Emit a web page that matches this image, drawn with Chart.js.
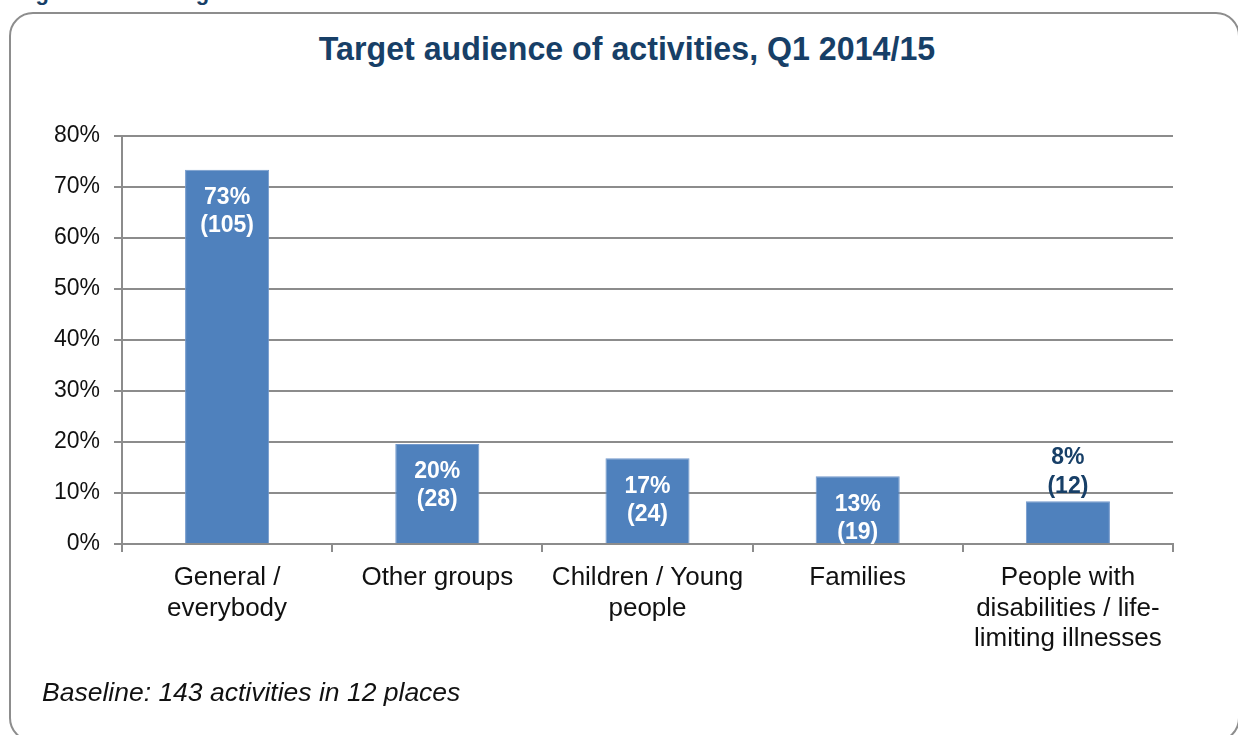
<!DOCTYPE html>
<html>
<head>
<meta charset="utf-8">
<script src="https://cdn.jsdelivr.net/npm/chart.js@4.4.1/dist/chart.umd.min.js"></script>
<style>
  html, body { margin: 0; padding: 0; background: #fff; }
  body { width: 1238px; height: 735px; position: relative; overflow: hidden; font-family: "Liberation Sans", Arial, sans-serif; }
  #cut-head { position: absolute; left: 16px; top: -20px; font: bold 22px "Liberation Sans", Arial, sans-serif; color: #173f67; white-space: nowrap; word-spacing: 18px; }
  #frame { position: absolute; left: 9px; top: 12px; width: 1231px; height: 730px; box-sizing: border-box; border: 2px solid #8d8d8d; border-radius: 24px; }
  #title { position: absolute; left: 0; width: 1254px; top: 30px; text-align: center; font: bold 33px "Liberation Sans", Arial, sans-serif; color: #173f67; transform: scaleX(0.975); transform-origin: 627px 0; }
  #note { position: absolute; left: 42px; top: 677px; font: italic 26.5px "Liberation Sans", Arial, sans-serif; color: #111; }
  canvas { position: absolute; left: 0; top: 0; }
</style>
</head>
<body>
<div id="cut-head">Figure 12: Target audience of activities</div>
<div id="frame"></div>
<div id="title">Target audience of activities, Q1 2014/15</div>
<canvas id="chart" width="1238" height="735"></canvas>
<div id="note">Baseline: 143 activities in 12 places</div>
<script>
// values (share of 143 activities) and the counts shown in labels
const categories = [
  ["General /", "everybody"],
  ["Other groups"],
  ["Children / Young", "people"],
  ["Families"],
  ["People with", "disabilities / life-", "limiting illnesses"],
];
const shares = [73.4, 19.6, 16.8, 13.3, 8.4];
const counts = [105, 28, 24, 19, 12];
const yTicks = [0, 10, 20, 30, 40, 50, 60, 70, 80];

const GRID = "#8c8c8c";
const NAVY = "#173f67";

// two-line value labels: inside the bar top when it fits, above it otherwise
const valueLabels = {
  id: "valueLabels",
  afterDatasetsDraw(chart) {
    const ctx = chart.ctx;
    const area = chart.chartArea;
    const meta = chart.getDatasetMeta(0);
    ctx.save();
    ctx.beginPath();
    ctx.rect(area.left, 0, area.right - area.left, area.bottom);
    ctx.clip();
    ctx.font = "bold 23px 'Liberation Sans', Arial, sans-serif";
    ctx.textAlign = "center";
    ctx.textBaseline = "middle";
    meta.data.forEach((bar, i) => {
      const v = shares[i];
      const lines = [Math.round(v) + "%", "(" + counts[i] + ")"];
      let y1, y2;
      if (v >= 10) {
        ctx.fillStyle = "#ffffff";
        y1 = bar.y + 28;
        y2 = bar.y + 56;
      } else {
        ctx.fillStyle = NAVY;
        y1 = bar.y - 44;
        y2 = bar.y - 15;
      }
      ctx.fillText(lines[0], bar.x, y1);
      ctx.fillText(lines[1], bar.x, y2);
    });
    ctx.restore();
  },
};

new Chart(document.getElementById("chart"), {
  type: "bar",
  data: {
    labels: categories,
    datasets: [{
      data: shares,
      backgroundColor: "#4f81bd",
      borderColor: "#7399cc",
      borderWidth: 1,
      barPercentage: 0.4,
      categoryPercentage: 1,
    }],
  },
  options: {
    responsive: false,
    devicePixelRatio: 1,
    animation: false,
    layout: { padding: { top: 136, right: 65, bottom: 0, left: 0 } },
    plugins: {
      legend: { display: false },
      tooltip: { enabled: false },
      title: { display: false },
    },
    scales: {
      x: {
        afterFit: (s) => { s.height = 191; },
        grid: { drawOnChartArea: false, drawTicks: true, tickLength: 8, color: GRID, lineWidth: 2, offset: true },
        border: { display: true, color: GRID, width: 2 },
        ticks: {
          color: "#111",
          padding: 11,
          maxRotation: 0,
          autoSkip: false,
          font: { family: "'Liberation Sans', Arial, sans-serif", size: 26, lineHeight: 1.17 },
        },
      },
      y: {
        min: 0,
        max: 80,
        afterFit: (s) => { s.width = 122; },
        afterBuildTicks: (s) => { s.ticks = yTicks.map((v) => ({ value: v })); },
        grid: { color: GRID, lineWidth: 2, tickLength: 8 },
        border: { display: true, color: GRID, width: 2 },
        ticks: {
          color: "#111",
          padding: 14,
          callback: (v) => v + "%",
          font: { family: "'Liberation Sans', Arial, sans-serif", size: 23 },
        },
      },
    },
  },
  plugins: [valueLabels],
});
</script>
</body>
</html>
